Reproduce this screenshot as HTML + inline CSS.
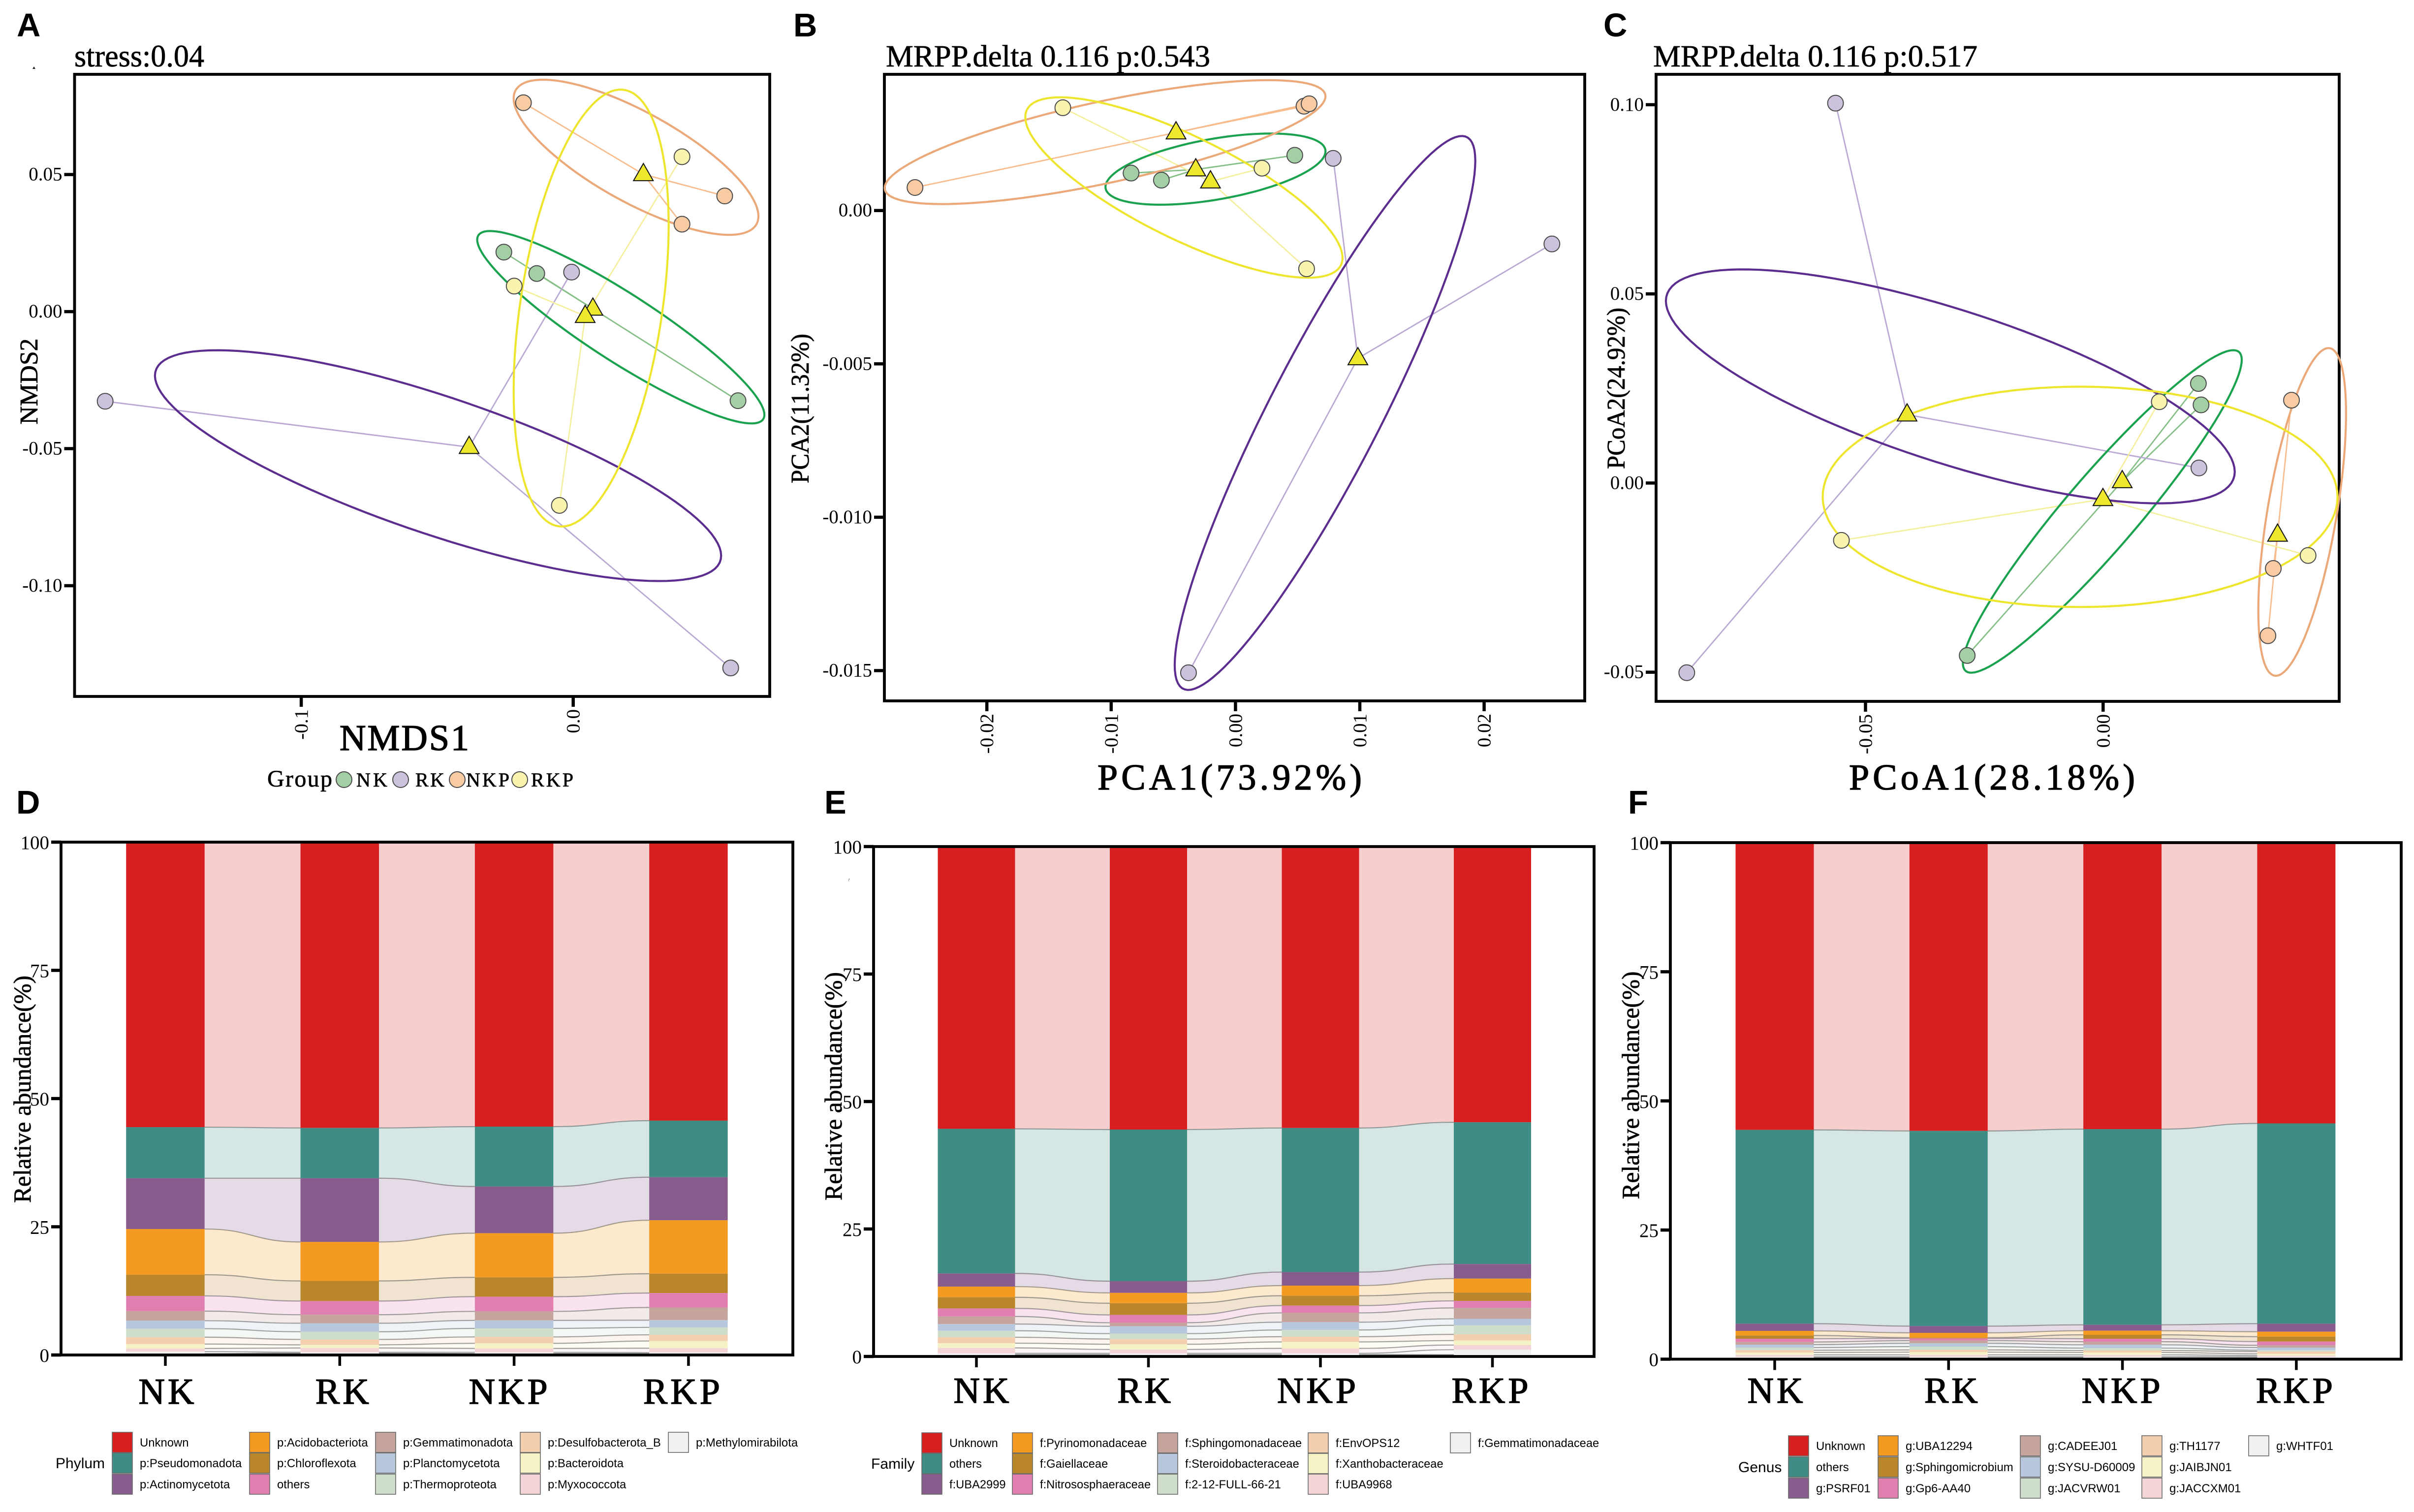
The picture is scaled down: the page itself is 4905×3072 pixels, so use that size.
<!DOCTYPE html>
<html lang="en">
<head>
<meta charset="utf-8">
<title>Microbial community ordination and relative abundance</title>
<style>
html,body{margin:0;padding:0;background:#fff;}
svg{display:block;}
text{font-family:"Liberation Serif",serif;fill:#000;}
.sans{font-family:"Liberation Sans",sans-serif;}
.heavy{stroke:#000;stroke-width:1.5px;}
.semi{stroke:#000;stroke-width:0.7px;}
</style>
</head>
<body>
<svg id="figure" xmlns="http://www.w3.org/2000/svg" width="4905" height="3072" viewBox="0 0 4905 3072">
  <rect x="0" y="0" width="4905" height="3072" fill="#fff"/>

  <text class="sans" x="34" y="74" font-size="67" font-weight="700">A</text>
  <text class="sans" x="1612" y="74" font-size="67" font-weight="700">B</text>
  <text class="sans" x="3258" y="74" font-size="67" font-weight="700">C</text>
  <text class="sans" x="33" y="1653" font-size="67" font-weight="700">D</text>
  <text class="sans" x="1675" y="1653" font-size="67" font-weight="700">E</text>
  <text class="sans" x="3308" y="1653" font-size="67" font-weight="700">F</text>

  <path d="M66 140 L69 135 L72 140 Z" fill="#222"/>
  <path d="M1724 1792 L1725 1785 L1726 1785 Z" fill="#222"/>

  <text class="semi" x="151" y="135" font-size="64" textLength="264" lengthAdjust="spacingAndGlyphs">stress:0.04</text>
  <text class="semi" x="1800" y="135" font-size="62" textLength="659" lengthAdjust="spacingAndGlyphs">MRPP.delta 0.116 p:0.543</text>
  <text class="semi" x="3359" y="135" font-size="62" textLength="659" lengthAdjust="spacingAndGlyphs">MRPP.delta 0.116 p:0.517</text>

  <text class="heavy" x="690" y="1524" font-size="74" textLength="263" lengthAdjust="spacing">NMDS1</text>
  <text class="heavy" x="2230" y="1604" font-size="74" textLength="537" lengthAdjust="spacing">PCA1(73.92%)</text>
  <text class="heavy" x="3757" y="1604" font-size="74" textLength="581" lengthAdjust="spacing">PCoA1(28.18%)</text>

  <text class="semi" transform="translate(76 775) rotate(-90)" text-anchor="middle" font-size="52" textLength="175" lengthAdjust="spacingAndGlyphs">NMDS2</text>
  <text class="semi" transform="translate(1643 830) rotate(-90)" text-anchor="middle" font-size="52" textLength="304" lengthAdjust="spacingAndGlyphs">PCA2(11.32%)</text>
  <text class="semi" transform="translate(3301 789) rotate(-90)" text-anchor="middle" font-size="52" textLength="328" lengthAdjust="spacingAndGlyphs">PCoA2(24.92%)</text>

  <text class="semi" transform="translate(62 2213) rotate(-90)" text-anchor="middle" font-size="50" textLength="462" lengthAdjust="spacingAndGlyphs">Relative abundance(%)</text>
  <text class="semi" transform="translate(1710 2207) rotate(-90)" text-anchor="middle" font-size="50" textLength="464" lengthAdjust="spacingAndGlyphs">Relative abundance(%)</text>
  <text class="semi" transform="translate(3330 2205) rotate(-90)" text-anchor="middle" font-size="50" textLength="463" lengthAdjust="spacingAndGlyphs">Relative abundance(%)</text>

  <text class="semi" x="543" y="1598" font-size="48" textLength="132" lengthAdjust="spacing">Group</text>
  <g id="group-legend"></g>

  <g id="panel-a"></g>
  <g id="panel-b"></g>
  <g id="panel-c"></g>
  <g id="panel-d"></g>
  <g id="panel-e"></g>
  <g id="panel-f"></g>
</svg>

<script>
// ---------- shared categories ----------
const groups = ['NK', 'RK', 'NKP', 'RKP'];

// ---------- panel A: NMDS scores ----------
const nmdsX = [[-0.0255, -0.0134, 0.0606], [-0.1721, -0.0006, 0.0579], [-0.0183, 0.0557, 0.0400], [0.0400, -0.0217, -0.0051]];
const nmdsY = [[0.0217, 0.0139, -0.0325], [-0.0327, 0.0144, -0.1300], [0.0762, 0.0422, 0.0319], [0.0565, 0.0093, -0.0707]];
const nmdsEllipseCx = [0.0175, -0.0497, 0.0231, 0.0066];
const nmdsEllipseCy = [-0.0057, -0.0562, 0.0563, 0.0013];
const nmdsEllipseSdX = [0.0528, 0.1041, 0.0450, 0.0285];
const nmdsEllipseSdY = [0.0351, 0.0421, 0.0283, 0.0797];
const nmdsEllipseCorr = [-0.91, -0.78, -0.76, 0.38];
const nmdsXTicks = [-0.1, 0.0];
const nmdsXTickLabels = ['-0.1', '0.0'];
const nmdsYTicks = [0.05, 0.00, -0.05, -0.10];
const nmdsYTickLabels = ['0.05', '0.00', '-0.05', '-0.10'];

// ---------- panel B: PCA scores ----------
const pcaX = [[-0.00840, -0.00596, 0.00477], [0.00786, 0.02545, -0.00378], [-0.02578, 0.00551, 0.00592], [-0.01389, 0.00213, 0.00572]];
const pcaY = [[0.00122, 0.00099, 0.00180], [0.00170, -0.00109, -0.01507], [0.00075, 0.00340, 0.00348], [0.00335, 0.00138, -0.00190]];
const pcaEllipseCx = [-0.00161, 0.00720, -0.01049, -0.00415];
const pcaEllipseCy = [0.00135, -0.00660, 0.00223, 0.00075];
const pcaEllipseSdX = [0.00885, 0.01209, 0.01773, 0.01276];
const pcaEllipseSdY = [0.00116, 0.00903, 0.00202, 0.00294];
const pcaEllipseCorr = [0.5, 0.91, 0.74, -0.78];
const pcaXTicks = [-0.02, -0.01, 0.00, 0.01, 0.02];
const pcaXTickLabels = ['-0.02', '-0.01', '0.00', '0.01', '0.02'];
const pcaYTicks = [0.000, -0.005, -0.010, -0.015];
const pcaYTickLabels = ['0.00', '-0.005', '-0.010', '-0.015'];

// ---------- panel C: PCoA scores ----------
const pcoaX = [[0.02005, 0.02061, -0.02860], [-0.05631, 0.02016, -0.08761], [0.03964, 0.03581, 0.03468], [0.01182, 0.04313, -0.05507]];
const pcoaY = [[0.02631, 0.02066, -0.04559], [0.10041, 0.00399, -0.05014], [0.02190, -0.02259, -0.04036], [0.02149, -0.01915, -0.01515]];
const pcoaEllipseCx = [-0.00017, -0.03215, 0.04189, -0.00484];
const pcoaEllipseCy = [-0.00751, 0.02555, -0.00764, -0.00365];
const pcoaEllipseSdX = [0.02934, 0.05985, 0.00923, 0.05417];
const pcoaEllipseSdY = [0.04263, 0.03092, 0.04332, 0.02913];
const pcoaEllipseCorr = [0.94, -0.73, 0.6, 0];
const pcoaXTicks = [-0.05, 0.00];
const pcoaXTickLabels = ['-0.05', '0.00'];
const pcoaYTicks = [0.10, 0.05, 0.00, -0.05];
const pcoaYTickLabels = ['0.10', '0.05', '0.00', '-0.05'];

// ---------- stacked bars ----------
const abundanceTicks = [0, 25, 50, 75, 100];

const phylumNames = ['Unknown', 'p:Pseudomonadota', 'p:Actinomycetota', 'p:Acidobacteriota', 'p:Chloroflexota', 'others', 'p:Gemmatimonadota', 'p:Planctomycetota', 'p:Thermoproteota', 'p:Desulfobacterota_B', 'p:Bacteroidota', 'p:Myxococcota', 'p:Methylomirabilota'];
const phylumValues = [
  [55.57, 55.73, 55.47, 54.31],
  [9.96, 9.80, 11.67, 11.02],
  [9.91, 12.43, 9.11, 8.40],
  [8.91, 7.60, 8.61, 10.42],
  [4.13, 3.92, 3.77, 3.77],
  [2.97, 2.67, 2.87, 2.82],
  [1.86, 1.66, 1.76, 2.47],
  [1.56, 1.66, 1.56, 1.41],
  [1.66, 1.50, 1.66, 1.45],
  [1.35, 1.06, 1.25, 1.21],
  [0.86, 0.60, 1.00, 1.40],
  [0.61, 0.85, 0.76, 0.85],
  [0.41, 0.16, 0.26, 0.21]
];

const familyNames = ['Unknown', 'others', 'f:UBA2999', 'f:Pyrinomonadaceae', 'f:Gaiellaceae', 'f:Nitrososphaeraceae', 'f:Sphingomonadaceae', 'f:Steroidobacteraceae', 'f:2-12-FULL-66-21', 'f:EnvOPS12', 'f:Xanthobacteraceae', 'f:UBA9968', 'f:Gemmatimonadaceae'];
const familyValues = [
  [55.35, 55.50, 55.19, 54.07],
  [28.36, 29.73, 28.26, 27.80],
  [2.59, 2.30, 2.65, 2.86],
  [2.09, 2.03, 1.99, 2.74],
  [2.19, 2.29, 1.93, 1.63],
  [1.58, 1.53, 1.43, 1.38],
  [1.48, 0.71, 1.83, 2.14],
  [1.32, 1.43, 1.53, 1.27],
  [1.27, 1.07, 1.32, 1.78],
  [1.17, 1.02, 1.02, 1.22],
  [0.92, 1.02, 1.27, 0.87],
  [1.07, 0.76, 0.97, 0.92],
  [0.25, 0.25, 0.25, 0.96]
];

const genusNames = ['Unknown', 'others', 'g:PSRF01', 'g:UBA12294', 'g:Sphingomicrobium', 'g:Gp6-AA40', 'g:CADEEJ01', 'g:SYSU-D60009', 'g:JACVRW01', 'g:TH1177', 'g:JAIBJN01', 'g:JACCXM01', 'g:WHTF01'];
const genusValues = [
  [55.61, 55.81, 55.46, 54.36],
  [37.51, 37.79, 37.89, 38.76],
  [1.40, 1.30, 1.14, 1.56],
  [0.89, 0.93, 0.79, 0.96],
  [0.64, 0.15, 0.77, 0.95],
  [0.63, 0.42, 0.57, 0.72],
  [0.51, 0.53, 0.60, 0.45],
  [0.57, 0.64, 0.64, 0.51],
  [0.51, 0.64, 0.47, 0.25],
  [0.44, 0.44, 0.38, 0.45],
  [0.45, 0.51, 0.45, 0.32],
  [0.38, 0.38, 0.38, 0.25],
  [0.11, 0.11, 0.11, 0.11]
];

// ---------- rendering ----------
const NS = 'http://www.w3.org/2000/svg';
const pointFill = ['#a3cfa5', '#cdc2de', '#f8cba3', '#f8f4ae'];
const lineColor = ['#86bf87', '#b9a9d3', '#f7bd8f', '#f5f0a0'];
const ellipseColor = ['#1ba24f', '#5b2d8e', '#eba878', '#eee52f'];
const stackColor = ['#d71f20', '#3f8c84', '#885c8d', '#f49a20', '#b9862b', '#e07fb0', '#c5a49e', '#b7c7dc', '#cfddcb', '#f3cfb0', '#f5f3c5', '#f3d5d8', '#f1f1f1'];

function mk(tag, attrs, parent) {
  const n = document.createElementNS(NS, tag);
  for (const k in attrs) n.setAttribute(k, attrs[k]);
  parent.appendChild(n);
  return n;
}
function mean(a) { return a.reduce((s, v) => s + v, 0) / a.length; }

function drawOrdination(cfg) {
  const g = document.getElementById(cfg.id);
  const sx = v => cfg.x0 + cfg.kx * v;
  const sy = v => cfg.y0 - cfg.ky * v;

  const frame = mk('rect', {x: cfg.left, y: cfg.top, width: cfg.right - cfg.left, height: cfg.bottom - cfg.top, fill: '#fff', stroke: '#000', 'stroke-width': 5.8}, g);
  
  

  cfg.xTicks.forEach((t, i) => {
    const tick = mk('line', {x1: sx(t), x2: sx(t), y1: cfg.bottom, y2: cfg.bottom + 21, stroke: '#000', 'stroke-width': 6.5}, g);
    
    
    const lab = mk('text', {transform: 'translate(' + (sx(t) + 13) + ' ' + (cfg.bottom + 26) + ') rotate(-90)', 'text-anchor': 'end', 'font-size': 39}, g);
    lab.textContent = cfg.xLabels[i];
    
    
  });
  cfg.yTicks.forEach((t, i) => {
    const tick = mk('line', {x1: cfg.left - 21, x2: cfg.left, y1: sy(t), y2: sy(t), stroke: '#000', 'stroke-width': 6.5}, g);
    
    
    const lab = mk('text', {x: cfg.left - 25, y: sy(t) + 12, 'text-anchor': 'end', 'font-size': 39}, g);
    lab.textContent = cfg.yLabels[i];
    
    
  });

  groups.forEach((name, gi) => {
    const cxv = mean(cfg.X[gi]);
    const cyv = mean(cfg.Y[gi]);
    cfg.X[gi].forEach((xv, pi) => {
      const spoke = mk('line', {x1: sx(cxv), y1: sy(cyv), x2: sx(xv), y2: sy(cfg.Y[gi][pi]), stroke: lineColor[gi], 'stroke-width': 2.8}, g);
      
      
    });
  });
  groups.forEach((name, gi) => {
    const r = cfg.Ecorr[gi];
    const q = Math.sqrt(1 - r * r);
    let d = '';
    for (let k = 0; k < 120; k++) {
      const t = k / 120 * 2 * Math.PI;
      const xv = cfg.Ecx[gi] + cfg.Ew[gi] * Math.cos(t);
      const yv = cfg.Ecy[gi] + cfg.Eh[gi] * (r * Math.cos(t) + q * Math.sin(t));
      d += (k ? 'L' : 'M') + sx(xv).toFixed(1) + ' ' + sy(yv).toFixed(1);
    }
    const ell = mk('path', {d: d + 'Z', fill: 'none', stroke: ellipseColor[gi], 'stroke-width': 4.2}, g);
    
    
  });
  groups.forEach((name, gi) => {
    cfg.X[gi].forEach((xv, pi) => {
      const c = mk('circle', {cx: sx(xv), cy: sy(cfg.Y[gi][pi]), r: 16, fill: pointFill[gi], stroke: '#4a4a4a', 'stroke-width': 2}, g);
      
      
    });
  });
  groups.forEach((name, gi) => {
    const px = sx(mean(cfg.X[gi]));
    const py = sy(mean(cfg.Y[gi]));
    const tri = mk('polygon', {points: px + ',' + (py - 22) + ' ' + (px + 20) + ',' + (py + 13) + ' ' + (px - 20) + ',' + (py + 13), fill: '#ede82b', stroke: '#111', 'stroke-width': 2}, g);
    
    
  });
}

drawOrdination({id: 'panel-a', left: 151.5, right: 1564, top: 151, bottom: 1415,
  x0: 1164.7, kx: 5526, y0: 633.1, ky: 5569,
  X: nmdsX, Y: nmdsY, Ecx: nmdsEllipseCx, Ecy: nmdsEllipseCy, Ew: nmdsEllipseSdX, Eh: nmdsEllipseSdY, Ecorr: nmdsEllipseCorr,
  xTicks: nmdsXTicks, xLabels: nmdsXTickLabels, yTicks: nmdsYTicks, yLabels: nmdsYTickLabels});
drawOrdination({id: 'panel-b', left: 1797, right: 3220, top: 151, bottom: 1424,
  x0: 2510.4, kx: 25260, y0: 427.7, ky: 62322,
  X: pcaX, Y: pcaY, Ecx: pcaEllipseCx, Ecy: pcaEllipseCy, Ew: pcaEllipseSdX, Eh: pcaEllipseSdY, Ecorr: pcaEllipseCorr,
  xTicks: pcaXTicks, xLabels: pcaXTickLabels, yTicks: pcaYTicks, yLabels: pcaYTickLabels});
drawOrdination({id: 'panel-c', left: 3365, right: 4753, top: 151, bottom: 1425,
  x0: 4273.3, kx: 9656, y0: 981.4, ky: 7686,
  X: pcoaX, Y: pcoaY, Ecx: pcoaEllipseCx, Ecy: pcoaEllipseCy, Ew: pcoaEllipseSdX, Eh: pcoaEllipseSdY, Ecorr: pcoaEllipseCorr,
  xTicks: pcoaXTicks, xLabels: pcoaXTickLabels, yTicks: pcoaYTicks, yLabels: pcoaYTickLabels});

// group legend
(function () {
  const g = document.getElementById('group-legend');
  const circleX = [699, 814, 929, 1056];
  const textX = [724, 844, 947, 1079];
  const textW = [63, 59, 88, 86];
  groups.forEach((name, i) => {
    const c = mk('circle', {cx: circleX[i], cy: 1584, r: 16, fill: pointFill[i], stroke: '#4a4a4a', 'stroke-width': 2}, g);
    
    
    const t = mk('text', {class: 'semi', x: textX[i], y: 1598, 'font-size': 40, textLength: textW[i], lengthAdjust: 'spacing'}, g);
    t.textContent = name;
    
    
  });
})();

function drawStack(cfg) {
  const g = document.getElementById(cfg.id);
  const sy = v => cfg.y0 - cfg.ky * v;
  const sx = i => cfg.x0 + cfg.step * i;
  const hw = cfg.barW / 2;

  // cumulative boundaries from the top of each column
  const tops = cfg.values.map(() => []);
  const bots = cfg.values.map(() => []);
  for (let s = 0; s < groups.length; s++) {
    let acc = 100;
    cfg.values.forEach((row, l) => {
      tops[l][s] = acc;
      acc -= row[s];
      bots[l][s] = acc;
    });
  }

  // flow bands
  cfg.values.forEach((row, l) => {
    for (let s = 0; s < groups.length - 1; s++) {
      const x1 = sx(s) + hw;
      const x2 = sx(s + 1) - hw;
      const xm = (x1 + x2) / 2;
      const curve = (a, b) => 'C' + xm + ' ' + sy(a) + ' ' + xm + ' ' + sy(b) + ' ' + x2 + ' ' + sy(b);
      const back = (a, b) => 'C' + xm + ' ' + sy(b) + ' ' + xm + ' ' + sy(a) + ' ' + x1 + ' ' + sy(a);
      const d = 'M' + x1 + ' ' + sy(tops[l][s]) + curve(tops[l][s], tops[l][s + 1]) +
        'L' + x2 + ' ' + sy(bots[l][s + 1]) + back(bots[l][s], bots[l][s + 1]) + 'Z';
      const band = mk('path', {d: d, fill: stackColor[l], 'fill-opacity': 0.22}, g);
      
      
      const edge = mk('path', {d: 'M' + x1 + ' ' + sy(bots[l][s]) + curve(bots[l][s], bots[l][s + 1]), fill: 'none', stroke: '#9a9a9a', 'stroke-width': 2.2}, g);
      
      
    }
  });

  // bars
  cfg.values.forEach((row, l) => {
    for (let s = 0; s < groups.length; s++) {
      const bar = mk('rect', {x: sx(s) - hw, y: sy(tops[l][s]), width: cfg.barW, height: sy(bots[l][s]) - sy(tops[l][s]), fill: stackColor[l]}, g);
      
      
    }
  });

  // frame
  const frame = mk('rect', {x: cfg.left, y: sy(100), width: cfg.right - cfg.left, height: sy(0) - sy(100), fill: 'none', stroke: '#000', 'stroke-width': 5.8}, g);
  
  

  abundanceTicks.forEach(t => {
    const tick = mk('line', {x1: cfg.left - 20, x2: cfg.left, y1: sy(t), y2: sy(t), stroke: '#000', 'stroke-width': 6.5}, g);
    
    
    const lab = mk('text', {x: cfg.left - 24, y: sy(t) + 14, 'text-anchor': 'end', 'font-size': 39}, g);
    lab.textContent = String(t);
    
    
  });

  groups.forEach((name, s) => {
    const tick = mk('line', {x1: sx(s), x2: sx(s), y1: sy(0), y2: sy(0) + 22, stroke: '#000', 'stroke-width': 5.5}, g);
    
    
    const lab = mk('text', {class: 'heavy', x: sx(s) + cfg.labelShift[s], y: cfg.labelBase, 'text-anchor': 'middle', 'font-size': 74, 'letter-spacing': 6}, g);
    lab.textContent = name;
    
    
  });

  // legend
  const lt = mk('text', {class: 'sans', x: cfg.legendTitleX, y: cfg.legendRows[1] + 31, 'font-size': 30}, g);
  lt.textContent = cfg.legendTitle;
  
  
  cfg.names.forEach((name, i) => {
    const col = Math.floor(i / 3);
    const row = i % 3;
    const sw = mk('rect', {x: cfg.legendCols[col], y: cfg.legendRows[row], width: 41, height: 41, fill: stackColor[i], stroke: '#6a6a6a', 'stroke-width': 1.6}, g);
    
    
    const t = mk('text', {class: 'sans', x: cfg.legendCols[col] + 56, y: cfg.legendRows[row] + 29, 'font-size': cfg.legendFont}, g);
    t.textContent = name;
    
    
  });
}

drawStack({id: 'panel-d', values: phylumValues, names: phylumNames,
  left: 124, right: 1611, y0: 2753, ky: 10.42, x0: 336, step: 354.3, barW: 159.5,
  labelShift: [5, 8, -9, -11], labelBase: 2852, legendFont: 23.9,
  legendTitle: 'Phylum', legendTitleX: 113, legendCols: [228, 507, 763, 1057, 1358], legendRows: [2910, 2952, 2995]});
drawStack({id: 'panel-e', values: familyValues, names: familyNames,
  left: 1775, right: 3239, y0: 2756, ky: 10.36, x0: 1984, step: 349.5, barW: 157,
  labelShift: [13, -6, -5, -2], labelBase: 2850, legendFont: 23.7,
  legendTitle: 'Family', legendTitleX: 1770, legendCols: [1873, 2057, 2352, 2658, 2947], legendRows: [2911, 2953, 2995]});
drawStack({id: 'panel-f', values: genusValues, names: genusNames,
  left: 3394, right: 4879, y0: 2761.5, ky: 10.495, x0: 3606, step: 353.3, barW: 159,
  labelShift: [4, 8, 0, -1], labelBase: 2850, legendFont: 24,
  legendTitle: 'Genus', legendTitleX: 3532, legendCols: [3634, 3816, 4105, 4352, 4569], legendRows: [2917, 2960, 3003]});
</script>
</body>
</html>
